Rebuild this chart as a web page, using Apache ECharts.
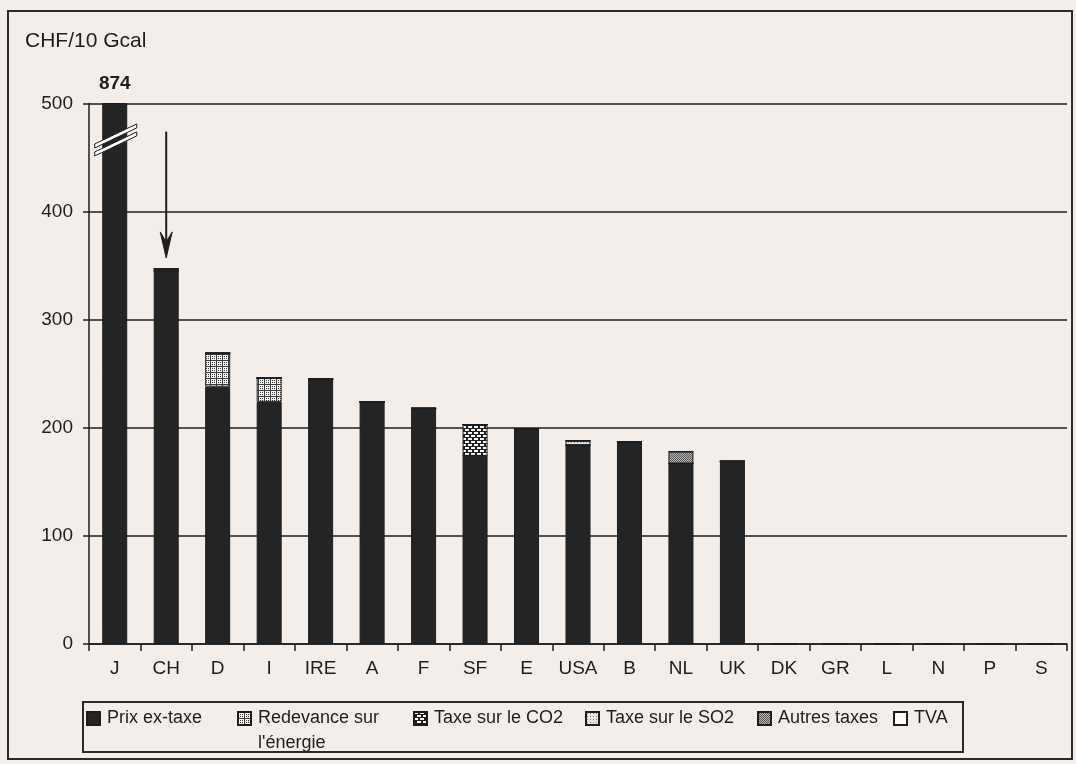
<!DOCTYPE html>
<html>
<head>
<meta charset="utf-8">
<script src="https://cdn.jsdelivr.net/npm/echarts@6/dist/echarts.min.js"></script>
<style>
  html, body { margin: 0; padding: 0; background: #f3eeea; }
  #chart { width: 1076px; height: 764px; }
</style>
</head>
<body>
<div id="chart"></div>
<script>
// Pays (abréviations)
const categories = ['J', 'CH', 'D', 'I', 'IRE', 'A', 'F', 'SF', 'E', 'USA', 'B', 'NL', 'UK', 'DK', 'GR', 'L', 'N', 'P', 'S'];

// Composantes du prix, CHF/10 Gcal
const prixExTaxe = [874, 345, 238, 224, 245, 224, 218, 174, 199, 184, 187, 167, 169, 0, 0, 0, 0, 0, 0];
const redevanceEnergie = [0, 0, 31, 22, 0, 0, 0, 0, 0, 0, 0, 0, 0, 0, 0, 0, 0, 0, 0];
const taxeCO2 = [0, 0, 0, 0, 0, 0, 0, 29, 0, 0, 0, 0, 0, 0, 0, 0, 0, 0, 0];
const taxeSO2 = [0, 2, 0, 0, 0, 0, 0, 0, 0, 4, 0, 0, 0, 0, 0, 0, 0, 0, 0];
const autresTaxes = [0, 0, 0, 0, 0, 0, 0, 0, 0, 0, 0, 11, 0, 0, 0, 0, 0, 0, 0];
const tva = [0, 0, 0, 0, 0, 0, 0, 0, 0, 0, 0, 0, 0, 0, 0, 0, 0, 0, 0];

const yTicks = [0, 100, 200, 300, 400, 500];
const yMax = 500;

const FONT = '"Liberation Sans", Arial, sans-serif';
const INK = '#1e1e1e';

// Motifs de remplissage (trames)
function tile(size, draw) {
  const c = document.createElement('canvas');
  c.width = size; c.height = size;
  draw(c.getContext('2d'));
  return { image: c, repeat: 'repeat' };
}
const fills = {
  prix: '#242424',
  redevance: tile(6, g => {
    g.fillStyle = '#f4f4f4'; g.fillRect(0, 0, 6, 6);
    g.fillStyle = '#3a3a3a';
    g.fillRect(0, 0, 6, 1); g.fillRect(0, 0, 1, 6);
    g.fillRect(2, 2, 1, 1); g.fillRect(4, 4, 1, 1);
    g.fillRect(4, 2, 1, 1); g.fillRect(2, 4, 1, 1);
  }),
  co2: tile(6, g => {
    g.fillStyle = '#202020'; g.fillRect(0, 0, 6, 6);
    g.fillStyle = '#f6f6f6';
    g.fillRect(0, 0, 4, 2);
    g.fillRect(3, 3, 3, 2); g.fillRect(0, 3, 1, 2);
  }),
  so2: tile(3, g => {
    g.fillStyle = '#e6e4e2'; g.fillRect(0, 0, 3, 3);
    g.fillStyle = '#8a8a8a'; g.fillRect(1, 1, 1, 1);
  }),
  autres: tile(2, g => {
    g.fillStyle = '#b4b4b4'; g.fillRect(0, 0, 2, 2);
    g.fillStyle = '#5a5a5a'; g.fillRect(0, 0, 1, 1); g.fillRect(1, 1, 1, 1);
  }),
  tva: '#ffffff'
};

const seriesDefs = [
  { name: 'Prix ex-taxe', data: prixExTaxe, fill: fills.prix },
  { name: "Redevance sur l'énergie", data: redevanceEnergie, fill: fills.redevance },
  { name: 'Taxe sur le CO2', data: taxeCO2, fill: fills.co2 },
  { name: 'Taxe sur le SO2', data: taxeSO2, fill: fills.so2 },
  { name: 'Autres taxes', data: autresTaxes, fill: fills.autres },
  { name: 'TVA', data: tva, fill: fills.tva }
];

const series = seriesDefs.map((s, i) => ({
  name: s.name,
  type: 'bar',
  stack: 'total',
  barWidth: 25,
  clip: true,
  data: s.data,
  itemStyle: { color: s.fill, borderColor: INK, borderWidth: 1 },
  emphasis: { disabled: true },
  label: i === 0 ? {
    show: true,
    position: 'top',
    distance: 10,
    formatter: p => (p.value > yMax ? String(p.value) : ''),
    fontFamily: FONT, fontSize: 19, fontWeight: 'bold', color: INK
  } : { show: false }
}));

// Légende : une colonne par composante ; le libellé long passe sur deux lignes
const legendLeft = [86, 237, 413, 585, 757, 893];
const legends = seriesDefs.map((s, i) => {
  const multi = s.name.indexOf("sur l'") >= 0;
  return {
    data: [s.name],
    left: legendLeft[i],
    top: multi ? 681 : 706,
    padding: 0,
    icon: 'rect',
    itemWidth: 13,
    itemHeight: 13,
    selectedMode: false,
    formatter: n => (multi ? '\n' + n.replace("sur l'", "sur\nl'") : n),
    textStyle: { fontFamily: FONT, fontSize: 18, color: INK, lineHeight: 25, padding: [0, 0, 0, 2] }
  };
});

const chart = echarts.init(document.getElementById('chart'), null, { renderer: 'canvas' });

chart.setOption({
  backgroundColor: '#f3eeea',
  animation: false,
  title: {
    text: 'CHF/10 Gcal',
    left: 25, top: 31, padding: 0,
    textStyle: { fontFamily: FONT, fontSize: 21, fontWeight: 'normal', color: INK }
  },
  legend: legends,
  grid: { left: 89, right: 9, top: 103.5, bottom: 120 },
  xAxis: {
    type: 'category',
    data: categories,
    axisLine: { lineStyle: { color: INK, width: 1.5 } },
    axisTick: { show: true, length: 7, lineStyle: { color: INK, width: 1.5 } },
    axisLabel: { margin: 15, fontFamily: FONT, fontSize: 19, color: INK }
  },
  yAxis: {
    type: 'value',
    min: yTicks[0], max: yTicks[yTicks.length - 1], interval: yTicks[1] - yTicks[0],
    axisLine: { show: true, lineStyle: { color: INK, width: 1.5 } },
    axisTick: { show: true, length: 6, lineStyle: { color: INK, width: 1.5 } },
    axisLabel: { margin: 16, fontFamily: FONT, fontSize: 19, color: INK },
    splitLine: { show: true, lineStyle: { color: INK, width: 1.5 } }
  },
  series: series
});

// Éléments de dessin : cadre, coupure de la barre J, flèche vers CH
function totalAt(i) {
  return seriesDefs.reduce((acc, s) => acc + s.data[i], 0);
}
const pt = (cat, val) => chart.convertToPixel({ xAxisIndex: 0, yAxisIndex: 0 }, [cat, val]);

const graphics = [];
// cadre extérieur
graphics.push({ type: 'rect', silent: true, z: -1,
  shape: { x: 8, y: 11, width: 1064, height: 748 },
  style: { fill: null, stroke: '#2a2a2a', lineWidth: 2 } });
// cadre de la légende
graphics.push({ type: 'rect', silent: true, z: -1,
  shape: { x: 83, y: 702, width: 880, height: 50 },
  style: { fill: null, stroke: '#2a2a2a', lineWidth: 2 } });

// coupure : barres dépassant l'échelle
categories.forEach((c, i) => {
  if (totalAt(i) <= yMax) return;
  const [cx, cy] = pt(c, yMax - 30);
  [0, 8].forEach(dy => {
    const xl = cx - 20, xr = cx + 22;
    const yl = cy + 8 + dy, yr = cy - 12 + dy;
    graphics.push({ type: 'polygon', silent: true, z: 100,
      shape: { points: [[xl, yl], [xr, yr], [xr, yr + 4], [xl, yl + 4]] },
      style: { fill: '#ffffff', stroke: INK, lineWidth: 1 } });
  });
});

// flèche pointant sur la Suisse
(function () {
  const i = categories.indexOf('CH');
  const [ax, ay0] = pt('CH', 474);
  const [, yTop] = pt('CH', totalAt(i));
  const tipY = yTop - 11;
  graphics.push({ type: 'line', silent: true, z: 100,
    shape: { x1: ax, y1: ay0, x2: ax, y2: tipY - 10 },
    style: { stroke: INK, lineWidth: 2 } });
  graphics.push({ type: 'polygon', silent: true, z: 100,
    shape: { points: [[ax - 6, tipY - 26], [ax, tipY - 16], [ax + 6, tipY - 26], [ax, tipY]] },
    style: { fill: INK, stroke: INK, lineWidth: 1 } });
})();

chart.setOption({ graphic: graphics });
</script>
</body>
</html>
